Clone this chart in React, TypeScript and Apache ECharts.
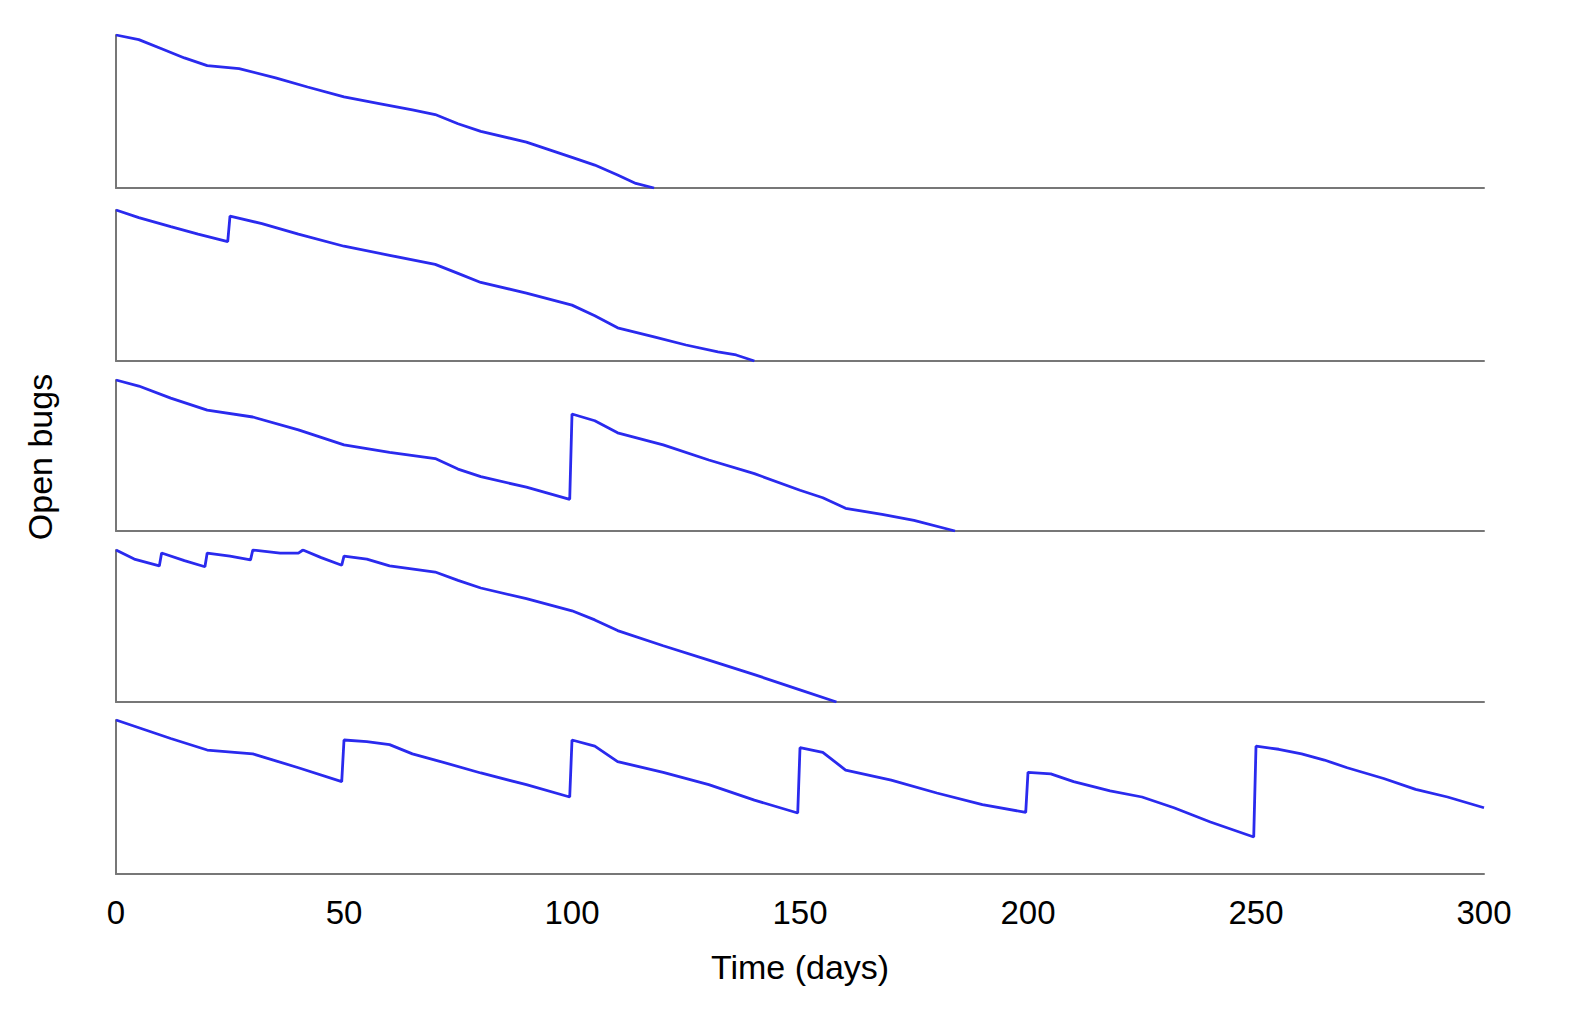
import React, { useEffect, useRef } from "react";
import * as echarts from "echarts";

const xTicks = [0, 50, 100, 150, 200, 250, 300];

const panel1: [number, number][] = [
  [0, 100], [5, 97], [10, 91], [15, 85], [20, 80], [27, 78], [35, 72], [42, 66], [50, 59.5],
  [58, 55], [65, 51], [70, 48], [75, 42], [80, 37], [90, 30], [100, 20], [105, 15], [110, 8.5], [114, 3], [118, 0],
];
const panel2: [number, number][] = [
  [0, 100], [5, 95], [12, 89], [18, 84], [24.5, 79], [25, 96], [32, 91], [40, 84], [50, 76],
  [60, 70], [70, 64], [75, 58], [80, 52], [90, 45], [100, 37], [105, 30], [110, 22], [118, 16], [125, 10.6],
  [132, 6], [136, 4], [140, 0],
];
const panel3: [number, number][] = [
  [0, 100], [5, 96], [12, 88], [20, 80], [30, 75.5], [40, 67], [50, 57], [60, 52], [70, 48],
  [75, 41], [80, 36], [90, 29], [99.5, 21], [100, 77.5], [105, 73], [110, 65], [120, 57], [130, 47],
  [140, 38], [150, 27], [155, 22], [160, 15], [168, 11], [175, 7], [184, 0],
];
const panel4: [number, number][] = [
  [0, 100], [4, 94], [9.5, 89.5], [10, 98], [15, 93], [19.5, 89], [20, 98], [25, 96], [29.5, 93.5],
  [30, 100], [36, 98], [40, 98], [41, 100], [45, 95], [49.5, 90], [50, 96], [55, 94], [60, 89.5],
  [70, 85.5], [75, 80], [80, 75], [90, 68], [100, 60], [105, 54], [110, 47], [120, 37], [130, 27.6],
  [140, 18], [150, 8], [158, 0],
];
const panel5: [number, number][] = [
  [0, 100], [6, 94], [12, 88], [20, 80.5], [30, 78], [40, 69], [49.5, 60], [50, 87], [55, 86], [60, 84],
  [65, 78], [70, 74], [80, 65.6], [90, 58], [99.5, 50], [100, 87], [105, 83], [110, 73], [120, 66],
  [130, 58], [140, 48], [149.5, 39.6], [150, 82], [155, 79], [160, 67.5], [170, 61], [180, 52.6],
  [190, 45], [199.5, 40], [200, 66], [205, 65], [210, 60], [218, 54], [225, 50], [232, 43], [240, 33.8],
  [249.5, 24], [250, 83], [255, 81], [260, 78], [265, 74], [270, 69], [278, 62], [285, 55], [292, 50], [300, 43],
];

const panels = [panel1, panel2, panel3, panel4, panel5];
const tops = [35, 210, 380, 550, 720];
const heights = [153, 151, 151, 152, 154];

export default function App() {
  const ref = useRef<HTMLDivElement>(null);
  useEffect(() => {
    const chart = echarts.init(ref.current!, undefined, { renderer: "svg" });
    const axisLine = { show: true, lineStyle: { color: "#777", width: 2 } };
    chart.setOption({
      animation: false,
      grid: panels.map((_, i) => ({ left: 116, right: 106, top: tops[i], height: heights[i] })),
      xAxis: panels.map((_, i) => ({
        type: "value",
        gridIndex: i,
        min: 0,
        max: 300,
        interval: 50,
        axisLine,
        axisTick: { show: false },
        splitLine: { show: false },
        axisLabel: {
          show: i === 4,
          color: "#000",
          fontSize: 33,
          fontFamily: "Liberation Sans",
          margin: 22,
          formatter: (v: number) => (xTicks.includes(v) ? String(v) : ""),
        },
        name: i === 4 ? "Time (days)" : "",
        nameLocation: "middle",
        nameGap: 76,
        nameTextStyle: { color: "#000", fontSize: 34, fontFamily: "Liberation Sans" },
      })),
      yAxis: panels.map((_, i) => ({
        type: "value",
        gridIndex: i,
        min: 0,
        max: 100,
        axisLine,
        axisTick: { show: false },
        axisLabel: { show: false },
        splitLine: { show: false },
      })),
      series: panels.map((d, i) => ({
        type: "line",
        xAxisIndex: i,
        yAxisIndex: i,
        data: d,
        showSymbol: false,
        lineStyle: { color: "#2a2aee", width: 2.8 },
      })),
      graphic: [
        {
          type: "text",
          x: 40,
          y: 457,
          rotation: Math.PI / 2,
          style: {
            text: "Open bugs",
            fontSize: 34,
            fontFamily: "Liberation Sans",
            fill: "#000",
            align: "center",
            verticalAlign: "middle",
          },
        },
      ],
    });
    return () => chart.dispose();
  }, []);
  return (
    <div
      ref={ref}
      style={{ position: "absolute", left: 0, top: 0, width: 1590, height: 1020, background: "#fff" }}
    />
  );
}
